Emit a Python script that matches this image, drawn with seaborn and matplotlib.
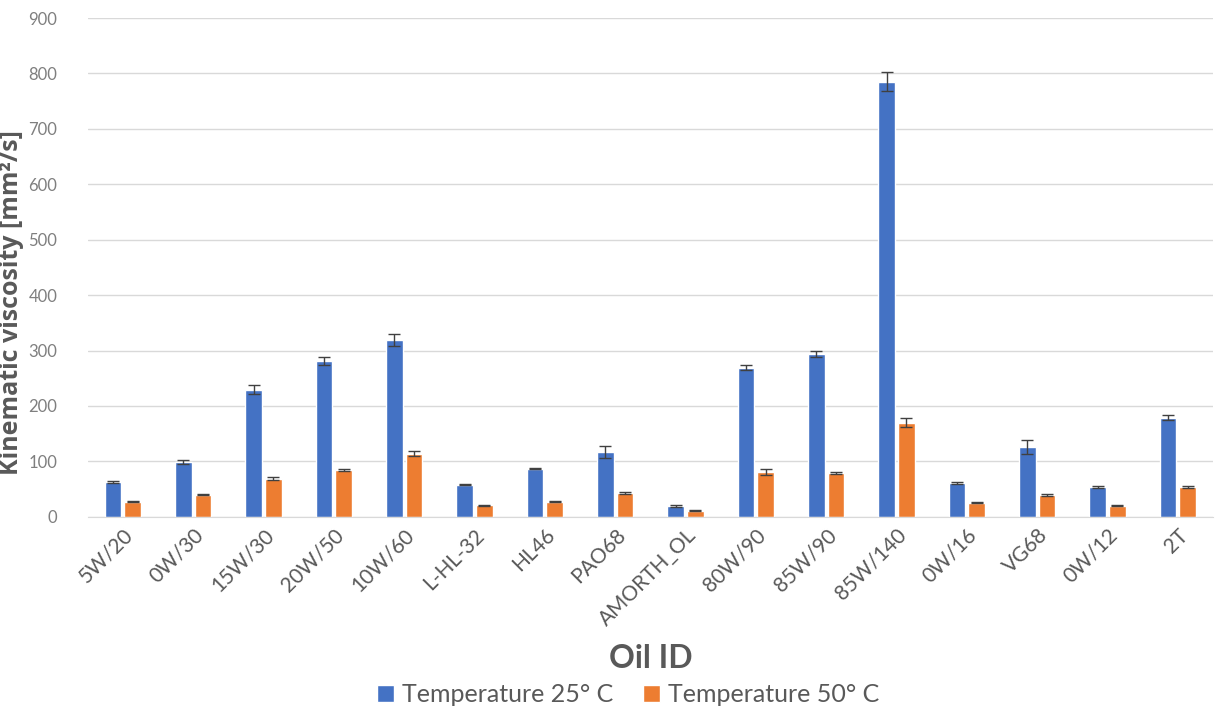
from matplotlib import pyplot as plt
import numpy as np
import pandas as pd
import seaborn as sns


oil_ids = ['5W/20', '0W/30', '15W/30', '20W/50', '10W/60', 'L-HL-32', 'HL46', 'PAO68',
           'AMORTH_OL', '80W/90', '85W/90', '85W/140', '0W/16', 'VG68', '0W/12', '2T']
visc_25 = [63, 99, 229, 281, 319, 58, 87, 117, 20, 269, 294, 785, 61, 126, 54, 179]
visc_50 = [27, 40, 69, 85, 114, 21, 27, 43, 11, 81, 79, 170, 25, 39, 20, 54]
err_25 = [1.5, 3, 8, 8, 10, 1.5, 1.5, 11, 1.5, 4, 6, 17, 1.5, 12, 1.5, 5]
err_50 = [1, 1, 2, 2, 4, 1, 1, 1.5, 1, 5, 2, 8, 1, 1.5, 1, 1.5]
series = ['Temperature 25° C', 'Temperature 50° C']
colors = ['#4472C4', '#ED7D31']

TEXT_GREY = '#595959'


def build_frame() -> pd.DataFrame:
    rows = []
    for name, vals, errs in [(series[0], visc_25, err_25), (series[1], visc_50, err_50)]:
        for oil, v, e in zip(oil_ids, vals, errs):
            rows.append({'Oil ID': oil, 'Series': name, 'Viscosity': v, 'Err': e})
    return pd.DataFrame(rows)


def viscosity_bars(data: pd.DataFrame) -> plt.Figure:
    sns.set_style('white')
    plt.rcParams['font.family'] = ['Lato', 'DejaVu Sans']
    fig = plt.figure(figsize=(12.19, 7.06), dpi=100)
    ax = fig.add_axes([0.072, 0.268, 0.923, 0.7065])

    sns.barplot(data=data, x='Oil ID', y='Viscosity', hue='Series', order=oil_ids,
                hue_order=series, palette=colors, width=0.56, gap=0.15,
                errorbar=None, saturation=1, ax=ax, zorder=2)

    # error bars on top of each bar, centred on the patches seaborn drew
    for container, name in zip(ax.containers, series):
        sub = data[data['Series'] == name].set_index('Oil ID').loc[oil_ids]
        xs = [p.get_x() + p.get_width() / 2 for p in container.patches]
        ax.errorbar(xs, sub['Viscosity'], yerr=sub['Err'], fmt='none',
                    ecolor='#404040', elinewidth=1, capsize=4, capthick=1, zorder=3)

    ax.set_ylim(0, 900)
    ax.set_xlim(-0.5, len(oil_ids) - 0.5)
    ax.set_yticks(np.arange(0, 901, 100))
    ax.yaxis.grid(True, color='#D9D9D9', linewidth=1, zorder=0)
    ax.set_axisbelow(True)
    for side in ['top', 'right', 'left']:
        ax.spines[side].set_visible(False)
    ax.spines['bottom'].set_color('#D9D9D9')
    ax.tick_params(axis='y', length=0, pad=22, labelsize=12, labelcolor='#7F7F7F')
    ax.tick_params(axis='x', length=0, pad=6, labelsize=15, labelcolor=TEXT_GREY)
    plt.setp(ax.get_xticklabels(), rotation=45, ha='right', rotation_mode='anchor')

    ax.set_ylabel('Kinematic viscosity [mm²/s]', fontsize=18, fontweight='bold',
                  color=TEXT_GREY, family=['Open Sans', 'DejaVu Sans'])
    ax.yaxis.set_label_coords(-0.057, 0.43)
    ax.set_xlabel('Oil ID', fontsize=23, fontweight='bold', color=TEXT_GREY, labelpad=10)

    ax.legend(loc='lower center', bbox_to_anchor=(0.48, -0.425), bbox_transform=ax.transAxes,
              ncol=2, frameon=False, fontsize=18, handlelength=0.7, handleheight=0.7,
              handletextpad=0.3, columnspacing=1.2, labelcolor=TEXT_GREY)
    return fig


if __name__ == '__main__':
    data = build_frame()
    fig = viscosity_bars(data)
    fig.savefig('out.png', dpi=100)
